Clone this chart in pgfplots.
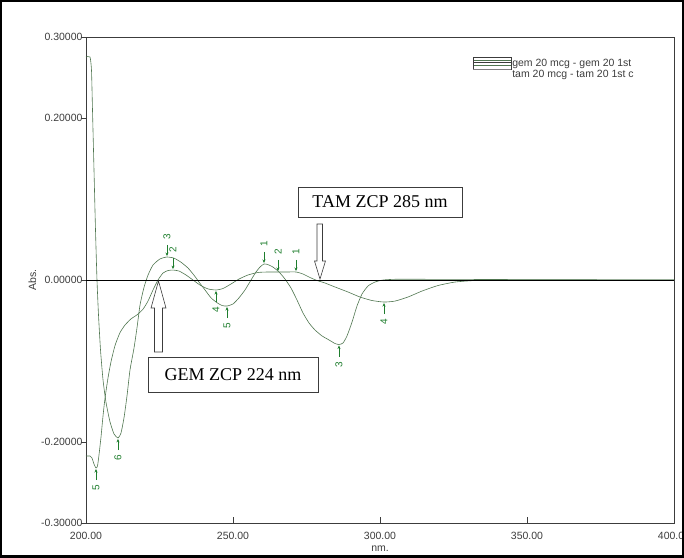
\documentclass[border=0pt]{standalone}
\usepackage{pgfplots}
\pgfplotsset{compat=1.18}
\usepackage{fontspec}
\setmainfont{Liberation Sans}
\newfontfamily\timesfont{Liberation Serif}
\usetikzlibrary{arrows.meta}
\definecolor{curve}{RGB}{80,118,80}
\definecolor{pk}{RGB}{30,125,45}
\definecolor{axc}{RGB}{60,60,60}

\pgfplotstableread{
x y
200.00 0.2753
201.36 0.2753
201.87 0.2590
202.21 0.2100
202.72 0.1360
203.23 0.0620
203.74 0.0000
204.25 -0.0430
204.93 -0.0860
205.78 -0.1230
206.80 -0.1510
208.16 -0.1750
209.52 -0.1900
210.88 -0.1950
211.90 -0.1890
212.93 -0.1700
213.95 -0.1430
214.97 -0.1110
216.33 -0.0840
217.35 -0.0590
218.37 -0.0310
219.73 -0.0090
221.09 0.0060
222.79 0.0185
225.17 0.0260
227.55 0.0284
229.93 0.0270
232.31 0.0220
234.69 0.0148
236.73 0.0060
238.44 -0.0025
240.48 -0.0123
242.52 -0.0220
244.56 -0.0280
246.26 -0.0315
247.96 -0.0321
250.00 -0.0296
252.04 -0.0220
254.08 -0.0123
256.12 0.0000
257.82 0.0099
259.18 0.0160
260.54 0.0198
261.90 0.0190
263.60 0.0160
265.65 0.0099
267.69 0.0012
269.73 -0.0099
271.77 -0.0247
273.81 -0.0407
275.85 -0.0530
277.89 -0.0617
280.27 -0.0690
282.65 -0.0740
284.69 -0.0784
286.05 -0.0796
287.41 -0.0778
288.78 -0.0690
290.48 -0.0520
292.18 -0.0320
293.88 -0.0173
295.92 -0.0074
298.30 -0.0025
301.02 0.0000
305.10 0.0009
313.60 0.0009
340.80 0.0006
400.00 0.0000
}\curveA

\pgfplotstableread{
x y
200.00 -0.2173
201.36 -0.2173
202.04 -0.2198
202.72 -0.2272
203.40 -0.2321
203.91 -0.2296
204.42 -0.2160
205.10 -0.1940
205.78 -0.1680
206.46 -0.1460
207.48 -0.1210
208.50 -0.1010
209.86 -0.0810
211.56 -0.0650
213.27 -0.0556
215.31 -0.0480
217.35 -0.0430
219.39 -0.0360
221.09 -0.0260
222.79 -0.0123
224.49 0.0000
226.19 0.0086
227.89 0.0117
229.59 0.0123
231.63 0.0111
234.01 0.0062
236.39 0.0000
238.78 -0.0062
241.50 -0.0110
244.22 -0.0123
246.60 -0.0105
249.32 -0.0049
252.04 0.0012
255.10 0.0062
258.50 0.0093
261.90 0.0099
265.31 0.0099
268.37 0.0099
271.43 0.0099
273.81 0.0074
276.19 0.0031
278.57 -0.0006
281.29 -0.0037
284.69 -0.0086
289.12 -0.0148
293.20 -0.0210
297.28 -0.0253
301.36 -0.0272
305.10 -0.0260
309.52 -0.0210
314.29 -0.0136
319.73 -0.0068
325.51 -0.0025
332.31 -0.0006
340.82 0.0000
400.00 0.0000
}\curveB

% peak / valley picks: x, arrow start y, arrow v, label y, label
\pgfplotstableread{
x y0 v ly l
227.55 0.0434 -0.0138 0.0530 3
260.54 0.0348 -0.0138 0.0444 1
229.59 0.0273 -0.0138 0.0369 2
265.31 0.0249 -0.0138 0.0345 2
271.43 0.0249 -0.0138 0.0345 1
210.88 -0.2100 0.0138 -0.2196 6
247.96 -0.0471 0.0138 -0.0567 5
286.05 -0.0946 0.0138 -0.1042 3
203.40 -0.2471 0.0138 -0.2567 5
244.22 -0.0273 0.0138 -0.0369 4
301.36 -0.0422 0.0138 -0.0518 4
}\picks

\begin{document}
\begin{tikzpicture}
\begin{axis}[
  scale only axis, width=588pt, height=486pt,
  xmin=200, xmax=400, ymin=-0.3, ymax=0.3,
  axis line style={axc, line width=0.7pt},
  xtick={200,250,300,350,400},
  xticklabels={200.00,250.00,300.00,350.00,400.00},
  ytick={-0.3,-0.2,0,0.2,0.3},
  yticklabels={-0.30000,-0.20000,0.00000,0.20000,0.30000},
  xtick pos=bottom, ytick pos=left,
  major tick length=6pt,
  y tick style={xshift=-5pt},
  tick style={axc, line width=0.6pt},
  ticklabel style={font=\fontsize{10.5}{12}\selectfont, text=axc},
  xticklabel style={yshift=-6pt},
  xlabel={nm.}, ylabel={Abs.},
  label style={font=\fontsize{10.5}{12}\selectfont, text=axc},
  xlabel style={yshift=1pt},
  ylabel style={yshift=-2pt},
  legend style={at={(rel axis cs:0.658,0.956)}, anchor=north west,
    draw=none, fill=none, font=\fontsize{10.5}{11}\selectfont,
    row sep=0pt, inner sep=0pt,
    nodes={inner sep=0.6pt, text height=7.5pt, text depth=2.2pt, text=axc}},
  legend cell align=left,
]
\addplot[curve, line width=0.6pt, smooth, tension=0.35,
  legend image code/.code={
    \path (0pt,0pt) (38pt,0pt);
    \draw[overlay, axc, fill=white, line width=0.45pt] (0pt,1pt) rectangle (38pt,7pt);
    \draw[overlay, curve, line width=0.5pt] (0.6pt,4pt) -- (37.4pt,4pt);}]
  table[x=x,y=y] {\curveB};
\addlegendentry{gem 20 mcg - gem 20 1st}
\addplot[curve, line width=0.6pt, smooth, tension=0.35,
  legend image code/.code={
    \path (0pt,0pt) (38pt,0pt);
    \draw[overlay, axc, fill=white, line width=0.45pt] (0pt,6pt) rectangle (38pt,12.5pt);
    \draw[overlay, curve, line width=0.5pt] (0.6pt,9.2pt) -- (37.4pt,9.2pt);
    \draw[overlay, gray, line width=0.8pt] (0pt,6pt) -- (38pt,6pt);}]
  table[x=x,y=y] {\curveA};
\addlegendentry{tam 20 mcg - tam 20 1st c}

\addplot[black, line width=0.8pt, forget plot] coordinates {(200,0) (400,0)};

\addplot[pk, line width=0.6pt, forget plot, -{Stealth[length=3.5pt,width=3pt]},
  quiver={u=0, v=\thisrow{v}}] table[x=x, y=y0] {\picks};

\addplot[draw=none, mark=none, forget plot, nodes near coords,
  point meta=explicit symbolic,
  nodes near coords style={anchor=center, rotate=90, text=pk,
    font=\fontsize{10}{11}\selectfont, inner sep=0pt}]
  table[x=x, y=ly, meta=l] {\picks};

% annotation arrows and boxes
\draw[axc, fill=white, line width=0.6pt]
  (axis cs:278.57,0.0691) -- (axis cs:280.44,0.0691) -- (axis cs:280.44,0.0235)
  -- (axis cs:281.46,0.0235) -- (axis cs:279.59,0.0012) -- (axis cs:277.72,0.0235)
  -- (axis cs:278.57,0.0235) -- cycle;
\draw[axc, fill=white, line width=0.6pt]
  (axis cs:223.30,-0.0889) -- (axis cs:226.02,-0.0889) -- (axis cs:226.02,-0.0346)
  -- (axis cs:227.21,-0.0346) -- (axis cs:224.66,-0.0012) -- (axis cs:222.11,-0.0346)
  -- (axis cs:223.30,-0.0346) -- cycle;
\node[draw=axc, fill=white, line width=0.6pt, minimum width=164pt, minimum height=30pt,
  font=\timesfont\fontsize{18}{20}\selectfont, inner sep=0pt]
  at (axis cs:300.0,0.0963) {TAM ZCP 285 nm};
\node[draw=axc, fill=white, line width=0.6pt, minimum width=170pt, minimum height=35pt,
  font=\timesfont\fontsize{18}{20}\selectfont, inner sep=0pt]
  at (axis cs:250.0,-0.1167) {GEM ZCP 224 nm};

\coordinate (fsw) at (axis cs:170.75,-0.3420);
\coordinate (fne) at (axis cs:403.40,0.3457);
\end{axis}
\pgfresetboundingbox
\useasboundingbox (fsw) rectangle (fne);
\draw[black, line width=4pt] (fsw) rectangle (fne);
\end{tikzpicture}
\end{document}
